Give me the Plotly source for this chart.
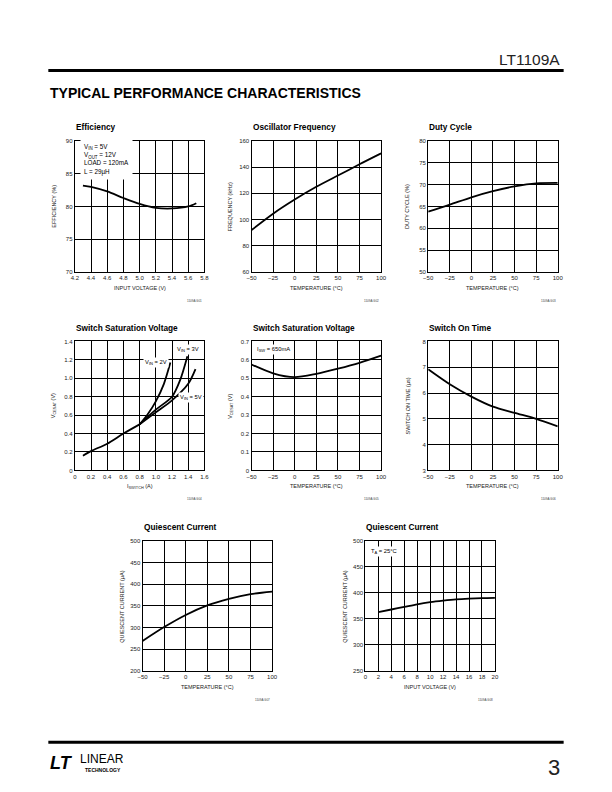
import plotly.graph_objects as go

# the page body keeps an 8px margin, so the figure is shrunk to fit the window
OFF = 8
W, H = 612 - 2 * OFF, 792 - 2 * OFF

# ---- data ----
eff_vin = [4.3, 4.4, 4.6, 4.8, 5.0, 5.2, 5.4, 5.6, 5.7]
eff_pct = [83.2, 83.0, 82.3, 81.3, 80.4, 79.8, 79.7, 80.0, 80.5]

temp = [-50, -25, 0, 25, 50, 75, 100]
osc_khz = [92, 104.5, 115.3, 125, 133.6, 142.2, 150.5]
duty_pct = [63.8, 65.4, 67.1, 68.5, 69.6, 70.3, 70.4]
vsat_t = [0.575, 0.527, 0.506, 0.524, 0.552, 0.584, 0.623]
ton_us = [6.92, 6.34, 5.86, 5.47, 5.23, 5.0, 4.71]
iq_t = [269, 301, 329, 351, 366, 377, 383]

isw_common = [0.1, 0.2, 0.4, 0.6, 0.8]
vsat_common = [0.16, 0.21, 0.29, 0.4, 0.5]
isw_2v = [0.8, 0.9, 1.0, 1.1, 1.18]
vsat_2v = [0.5, 0.61, 0.75, 0.94, 1.17]
isw_3v = [0.8, 1.0, 1.2, 1.3, 1.39]
vsat_3v = [0.5, 0.66, 0.8, 0.98, 1.24]
isw_5v = [0.8, 1.0, 1.2, 1.4, 1.49]
vsat_5v = [0.5, 0.63, 0.76, 0.94, 1.1]

iq_vin = [2, 4, 6, 8, 10, 12, 14, 16, 18, 20]
iq_v = [363, 368, 373, 378, 382, 385, 387.5, 389, 390, 390.5]

isw_ticks = [0, 0.2, 0.4, 0.6, 0.8, 1.0, 1.2, 1.4, 1.6]
isw_ticktext = ["0", "0.2", "0.4", "0.6", "0.8", "1.0", "1.2", "1.4", "1.6"]
vsat_ticks = [0, 0.2, 0.4, 0.6, 0.8, 1.0, 1.2, 1.4]
vsat_ticktext = ["0", "0.2", "0.4", "0.6", "0.8", "1.0", "1.2", "1.4"]

FONT = "Liberation Sans"
NARROW = "Liberation Sans Narrow, Liberation Sans"

# panel layout in page pixels: left, right, top, bottom
panels = [
    dict(box=(71, 203, 139, 271), xr=[4.2, 5.8], xd=0.2, yr=[70, 90], yd=5, xf=".1f",
         title="Efficiency", xt="INPUT VOLTAGE (V)", yt="EFFICIENCY (%)", code="1109A G01"),
    dict(box=(251, 383, 139, 271), xr=[-50, 100], xd=25, yr=[60, 160], yd=20,
         title="Oscillator Frequency", xt="TEMPERATURE (°C)", yt="FREQUENCY (kHz)", code="1109A G02"),
    dict(box=(431, 563, 139, 271), xr=[-50, 100], xd=25, yr=[50, 80], yd=5,
         title="Duty Cycle", xt="TEMPERATURE (°C)", yt="DUTY CYCLE (%)", code="1109A G03"),
    dict(box=(71, 203, 341, 471), xr=[0, 1.6], xd=0.2, yr=[0, 1.4], yd=0.2,
         xtv=(isw_ticks, isw_ticktext), ytv=(vsat_ticks, vsat_ticktext),
         title="Switch Saturation Voltage", xt="I<sub>SWITCH</sub> (A)", yt="V<sub>CESAT</sub> (V)", code="1109A G04"),
    dict(box=(251, 383, 341, 471), xr=[-50, 100], xd=25, yr=[0, 0.7], yd=0.1,
         title="Switch Saturation Voltage", xt="TEMPERATURE (°C)", yt="V<sub>CESAT</sub> (V)", code="1109A G05"),
    dict(box=(431, 563, 341, 471), xr=[-50, 100], xd=25, yr=[3, 8], yd=1,
         title="Switch On Time", xt="TEMPERATURE (°C)", yt="SWITCH ON TIME (µs)", code="1109A G06"),
    dict(box=(140, 272, 542, 673), xr=[-50, 100], xd=25, yr=[200, 500], yd=50,
         title="Quiescent Current", xt="TEMPERATURE (°C)", yt="QUIESCENT CURRENT (µA)", code="1109A G07"),
    dict(box=(367, 499, 542, 673), xr=[0, 20], xd=2, yr=[250, 500], yd=50,
         title="Quiescent Current", xt="INPUT VOLTAGE (V)", yt="QUIESCENT CURRENT (µA)", code="1109A G08"),
]

curves = [
    (1, eff_vin, eff_pct),
    (2, temp, osc_khz),
    (3, temp, duty_pct),
    (4, isw_common, vsat_common),
    (4, isw_2v, vsat_2v),
    (4, isw_3v, vsat_3v),
    (4, isw_5v, vsat_5v),
    (5, temp, vsat_t),
    (6, temp, ton_us),
    (7, temp, iq_t),
    (8, iq_vin, iq_v),
]

fig = go.Figure()
for n, xs, ys in curves:
    sfx = "" if n == 1 else str(n)
    fig.add_trace(go.Scatter(x=xs, y=ys, mode="lines", line=dict(color="black", width=1.8, shape="spline", smoothing=0.8),
                             xaxis="x" + sfx, yaxis="y" + sfx, showlegend=False, hoverinfo="skip"))

def px(x):
    return (x - OFF) / W

def py(y):
    return 1 - (y - OFF) / H

ann = []
lay = {}
for i, p in enumerate(panels, start=1):
    sfx = "" if i == 1 else str(i)
    l, r, t, b = p["box"]
    ax = dict(showline=True, mirror=True, linecolor="black", linewidth=1.2, showgrid=True,
              gridcolor="black", gridwidth=1, zeroline=False, ticks="", fixedrange=True,
              tickfont=dict(family=FONT, size=6, color="#222"))
    xa = dict(ax, domain=[px(l), px(r)], range=p["xr"], dtick=p["xd"], tick0=p["xr"][0],
              anchor="y" + sfx)
    ya = dict(ax, domain=[py(b), py(t)], range=p["yr"], dtick=p["yd"], tick0=p["yr"][0],
              anchor="x" + sfx)
    if "xf" in p:
        xa["tickformat"] = p["xf"]
    if "xtv" in p:
        xa.update(tickmode="array", tickvals=p["xtv"][0], ticktext=p["xtv"][1])
    if "ytv" in p:
        ya.update(tickmode="array", tickvals=p["ytv"][0], ticktext=p["ytv"][1])
    lay["xaxis" + sfx] = xa
    lay["yaxis" + sfx] = ya
    ann.append(dict(x=px(l - 1), y=py(t - 14), xref="paper", yref="paper", text="<b>%s</b>" % p["title"],
                    showarrow=False, xanchor="left", yanchor="middle",
                    font=dict(family=NARROW, size=8.3, color="black")))
    ann.append(dict(x=px((l + r) / 2), y=py(b + 16), xref="paper", yref="paper", text=p["xt"],
                    showarrow=False, xanchor="center", yanchor="middle",
                    font=dict(family=FONT, size=5.5, color="#222")))
    ann.append(dict(x=px(l - 21), y=py((t + b) / 2), xref="paper", yref="paper", text=p["yt"],
                    showarrow=False, textangle=-90, xanchor="center", yanchor="middle",
                    font=dict(family=FONT, size=5.5, color="#222")))
    ann.append(dict(x=px(r), y=py(b + 29), xref="paper", yref="paper", text=p["code"],
                    showarrow=False, xanchor="right", yanchor="middle",
                    font=dict(family=FONT, size=3, color="#444")))

# labels inside the plots (white boxes hide the grid behind them)
inset = dict(showarrow=False, bgcolor="white", borderpad=1, align="left",
             font=dict(family=FONT, size=5.8, color="black"), xanchor="left", yanchor="middle")
ann.append(dict(inset, x=4.26, y=87.1, xref="x", yref="y", borderpad=3,
                font=dict(family=FONT, size=6.3, color="black"),
                text="V<sub>IN</sub> = 5V<br>V<sub>OUT</sub> = 12V<br>LOAD = 120mA<br>L = 29µH"))
ann.append(dict(inset, x=0.84, y=1.17, xref="x4", yref="y4", text="V<sub>IN</sub> = 2V"))
ann.append(dict(inset, x=1.24, y=1.31, xref="x4", yref="y4", text="V<sub>IN</sub> = 3V"))
ann.append(dict(inset, x=1.28, y=0.79, xref="x4", yref="y4", text="V<sub>IN</sub> = 5V"))
ann.append(dict(inset, x=-46, y=0.655, xref="x5", yref="y5", text="I<sub>SW</sub> = 650mA"))
ann.append(dict(inset, x=0.6, y=480, xref="x8", yref="y8", text="T<sub>A</sub> = 25°C"))

# page header / footer
ann.append(dict(x=px(567), y=py(57), xref="paper", yref="paper", text="LT1109A", showarrow=False,
                xanchor="right", yanchor="middle", font=dict(family=FONT, size=15.5, color="#222")))
ann.append(dict(x=px(44), y=py(91), xref="paper", yref="paper",
                text="<b>TYPICAL PERFORMANCE CHARACTERISTICS</b>", showarrow=False,
                xanchor="left", yanchor="middle", font=dict(family=FONT, size=14, color="black")))
ann.append(dict(x=px(44), y=py(766), xref="paper", yref="paper", text="<b><i>LT</i></b>", showarrow=False,
                xanchor="left", yanchor="middle", font=dict(family=FONT, size=18, color="black")))
ann.append(dict(x=px(74), y=py(762), xref="paper", yref="paper", text="LINEAR", showarrow=False,
                xanchor="left", yanchor="middle", font=dict(family=NARROW, size=12, color="black")))
ann.append(dict(x=px(79), y=py(773), xref="paper", yref="paper", text="<b>TECHNOLOGY</b>", showarrow=False,
                xanchor="left", yanchor="middle", font=dict(family=NARROW, size=5, color="black")))
ann.append(dict(x=px(567), y=py(770), xref="paper", yref="paper", text="3", showarrow=False,
                xanchor="right", yanchor="middle", font=dict(family=FONT, size=22, color="#222")))

shapes = [
    dict(type="line", xref="paper", yref="paper", x0=px(44), x1=px(569), y0=py(68), y1=py(68),
         line=dict(color="black", width=3)),
    dict(type="line", xref="paper", yref="paper", x0=px(44), x1=px(569), y0=py(745), y1=py(745),
         line=dict(color="black", width=3)),
]

fig.update_layout(width=W, height=H, margin=dict(l=0, r=0, t=0, b=0), paper_bgcolor="white",
                  plot_bgcolor="white", annotations=ann, shapes=shapes, **lay)
fig.write_html("out.html")
